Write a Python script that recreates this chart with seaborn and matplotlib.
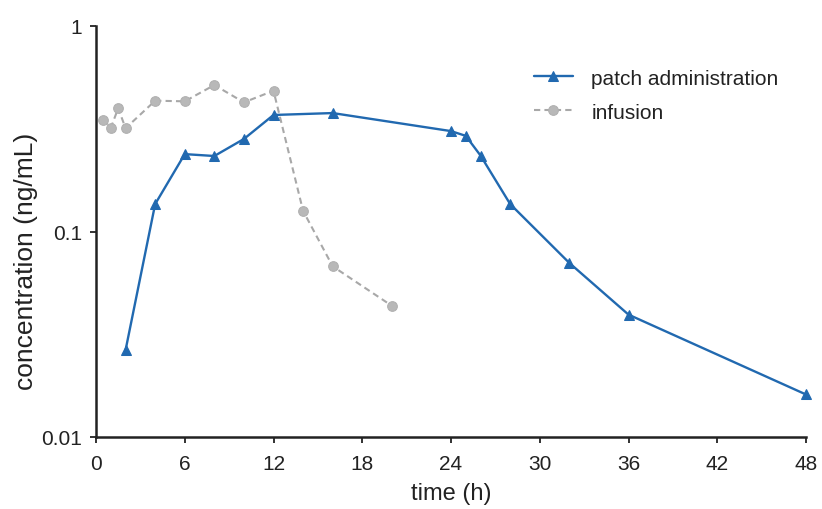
import numpy as np
import pandas as pd
import matplotlib
matplotlib.use("Agg")
import matplotlib.pyplot as plt
import seaborn as sns
from matplotlib.ticker import FixedLocator, FixedFormatter, NullLocator

patch_time = [2, 4, 6, 8, 10, 12, 16, 24, 25, 26, 28, 32, 36, 48]
patch_conc = [0.0265, 0.136, 0.238, 0.233, 0.282, 0.369, 0.377, 0.308, 0.292,
              0.234, 0.136, 0.0703, 0.0394, 0.0161]

infusion_time = [0.5, 1, 1.5, 2, 4, 6, 8, 10, 12, 14, 16, 20]
infusion_conc = [0.349, 0.319, 0.398, 0.318, 0.433, 0.430, 0.516, 0.425, 0.484,
                 0.126, 0.0677, 0.0435]

x_ticks = [0, 6, 12, 18, 24, 30, 36, 42, 48]
y_ticks = [0.01, 0.1, 1]
y_tick_labels = ["0.01", "0.1", "1"]

sns.set_theme(style="ticks")
plt.rcParams['font.family'] = ['Liberation Sans', 'DejaVu Sans']

fig = plt.figure(figsize=(8.22, 5.10), dpi=100)
ax = fig.add_axes([96/822, 1 - 438/510, (806-96)/822, (438-27)/510])

df_p = pd.DataFrame({"time": patch_time, "conc": patch_conc})
df_i = pd.DataFrame({"time": infusion_time, "conc": infusion_conc})

sns.lineplot(data=df_p, x="time", y="conc", ax=ax, color="#2169b0", linewidth=1.7,
             marker="^", markersize=6.5, markeredgecolor="#2169b0",
             label="patch administration", clip_on=False, zorder=3)
sns.lineplot(data=df_i, x="time", y="conc", ax=ax, color="#a8a8a8", linewidth=1.5,
             linestyle=(0, (3, 2)), marker="o", markersize=7,
             markerfacecolor="#b8b8b8", markeredgecolor="#b0b0b0",
             label="infusion", zorder=2)

ax.set_yscale("log")
ax.set_xlim(0, 48)
ax.set_ylim(0.01, 1)
ax.xaxis.set_major_locator(FixedLocator(x_ticks))
ax.yaxis.set_major_locator(FixedLocator(y_ticks))
ax.yaxis.set_major_formatter(FixedFormatter(y_tick_labels))
ax.yaxis.set_minor_locator(NullLocator())

for s in ["top", "right"]:
    ax.spines[s].set_visible(False)
for s in ["left", "bottom"]:
    ax.spines[s].set_color("#222222")
    ax.spines[s].set_linewidth(1.8)
ax.tick_params(axis="both", length=4, width=1.3, color="#222222",
               labelsize=15, labelcolor="#222222")
ax.tick_params(axis="x", pad=8)
ax.tick_params(axis="y", pad=6)

ax.set_xlabel("time (h)", fontsize=17, color="#222222", labelpad=7)
ax.set_ylabel("concentration (ng/mL)", fontsize=19, color="#222222")
ax.yaxis.set_label_coords(-0.082, 0.43)

leg = ax.legend(loc="upper left", bbox_to_anchor=(0.59, 0.942), frameon=False,
                fontsize=15, labelspacing=0.72, handlelength=1.9,
                handletextpad=0.87)
for t in leg.get_texts():
    t.set_color("#222222")

fig.savefig("out.png", dpi=100)
